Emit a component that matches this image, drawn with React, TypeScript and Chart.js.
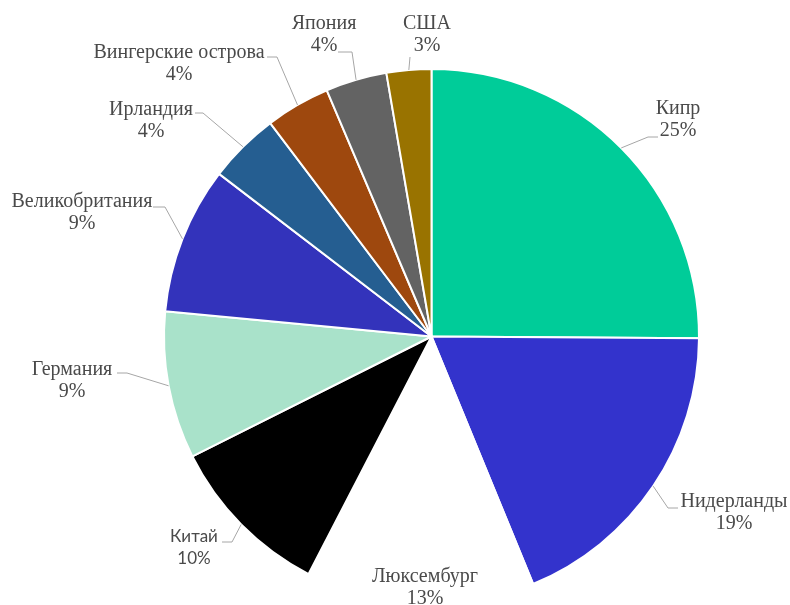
import React, { useEffect, useRef } from "react";
import { Chart, registerables } from "chart.js";

Chart.register(...registerables);

const categories = [
  "Кипр",
  "Нидерланды",
  "Люксембург",
  "Китай",
  "Германия",
  "Великобритания",
  "Ирландия",
  "Вингерские острова",
  "Япония",
  "США",
];
const shares = [25.1, 18.7, 13.8, 10.0, 8.9, 8.9, 4.3, 3.9, 3.7, 2.7];
const percentLabels = ["25%", "19%", "13%", "10%", "9%", "9%", "4%", "4%", "4%", "3%"];
const colors = [
  "#00CC99",
  "#3333CC",
  "#FFFFFF",
  "#000000",
  "#A9E2CA",
  "#3333BB",
  "#255E91",
  "#9E480E",
  "#636363",
  "#997300",
];

// label placement: text center (x, y of first line), leader elbow and end (null = no leader)
const labelLayout: { x: number; y: number; ex: number | null; ey: number | null; hx: number | null; sans?: boolean }[] = [
  { x: 678, y: 109, ex: 648, ey: 137, hx: 658 },
  { x: 734, y: 502, ex: 668, ey: 508, hx: 678 },
  { x: 425, y: 577, ex: null, ey: null, hx: null },
  { x: 194, y: 537, ex: 232, ey: 542, hx: 222, sans: true },
  { x: 72, y: 370, ex: 127, ey: 373, hx: 117 },
  { x: 82, y: 202, ex: 165, ey: 207, hx: 153 },
  { x: 151, y: 110, ex: 203, ey: 113, hx: 195 },
  { x: 179, y: 53, ex: 277, ey: 57, hx: 267 },
  { x: 324, y: 24, ex: 352, ey: 52, hx: 338 },
  { x: 427, y: 24, ex: 410, ey: 57, hx: 410 },
];

const labelPlugin = {
  id: "pieLabels",
  afterDatasetsDraw(chart: any) {
    const ctx = chart.ctx as CanvasRenderingContext2D;
    const meta = chart.getDatasetMeta(0);
    ctx.save();
    meta.data.forEach((arc: any, i: number) => {
      const L = labelLayout[i];
      const mid = (arc.startAngle + arc.endAngle) / 2;
      const r = arc.outerRadius;
      const sx = arc.x + Math.cos(mid) * r;
      const sy = arc.y + Math.sin(mid) * r;
      if (L.ex !== null && L.ey !== null && L.hx !== null) {
        ctx.strokeStyle = "#A6A6A6";
        ctx.lineWidth = 1;
        ctx.beginPath();
        ctx.moveTo(sx, sy);
        ctx.lineTo(L.ex, L.ey);
        ctx.lineTo(L.hx, L.ey);
        ctx.stroke();
      }
      ctx.fillStyle = "#4A4A4A";
      ctx.textAlign = "center";
      ctx.textBaseline = "middle";
      ctx.font = L.sans ? "17px Lato" : "20px 'Liberation Serif'";
      ctx.fillText(categories[i], L.x, L.y);
      ctx.fillText(percentLabels[i], L.x, L.y + 22);
    });
    ctx.restore();
  },
};

export default function App() {
  const ref = useRef<HTMLCanvasElement>(null);
  useEffect(() => {
    if (!ref.current) return;
    const chart = new Chart(ref.current, {
      type: "pie",
      data: {
        labels: categories,
        datasets: [
          {
            data: shares,
            backgroundColor: colors,
            borderColor: "#FFFFFF",
            borderWidth: 2,
          },
        ],
      },
      options: {
        animation: false,
        responsive: false,
        events: [],
        layout: { padding: { top: 68, bottom: 0, left: 163, right: 90 } },
        plugins: { legend: { display: false }, tooltip: { enabled: false } },
      },
      plugins: [labelPlugin],
    });
    return () => chart.destroy();
  }, []);
  return (
    <div style={{ position: "absolute", left: 0, top: 0, width: 790, height: 605, background: "#fff" }}>
      <canvas ref={ref} width={790} height={605} />
    </div>
  );
}
